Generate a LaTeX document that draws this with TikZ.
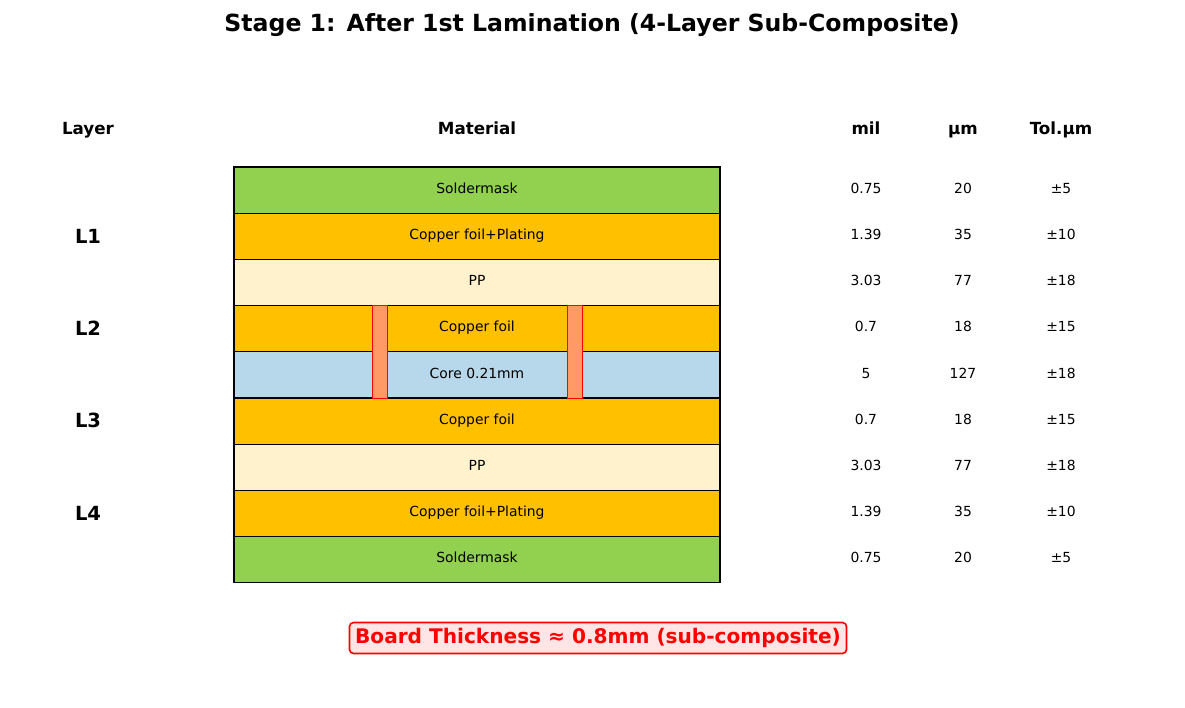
\documentclass[tikz,border=0pt]{standalone}
\usepackage{fontspec}
\setmainfont{DejaVu Sans}
\begin{document}
\begin{tikzpicture}[x=1pt,y=-1pt,
 cell/.style={draw=black,line width=1.3pt,minimum width=486pt,minimum height=46.2pt,inner sep=0pt},
 val/.style={font=\fontsize{13.9}{16}\selectfont,text height=1.5ex,text depth=.3ex},
 hdr/.style={font=\bfseries\fontsize{16.7}{19}\selectfont,text height=1.5ex,text depth=.3ex},
 lay/.style={font=\bfseries\fontsize{19.5}{22}\selectfont}]
\useasboundingbox (0,0) rectangle (1185,707);
\definecolor{gsm}{HTML}{92D050}\definecolor{cu}{HTML}{FFC000}
\definecolor{pp}{HTML}{FFF2CC}\definecolor{core}{HTML}{B7D7EA}
\definecolor{viac}{HTML}{FF9966}
\node[font=\bfseries\fontsize{23.6}{27}\selectfont] (title) at (592,25) {Stage 1: After 1st Lamination (4-Layer Sub-Composite)};
\node[hdr] (h1) at (88,131) {Layer};
\node[hdr] (h2) at (477,131) {Material};
\node[hdr] (h3) at (866,131) {mil};
\node[hdr] (h4) at (963,131) {µm};
\node[hdr] (h5) at (1061,131) {Tol.µm};
\foreach \i/\c/\m/\u/\tol in {0/gsm/0.75/20/5,1/cu/1.39/35/10,2/pp/3.03/77/18,3/cu/0.7/18/15,4/core/5/127/18,5/cu/0.7/18/15,6/pp/3.03/77/18,7/cu/1.39/35/10,8/gsm/0.75/20/5}{
 \node[cell,fill=\c] (r\i) at (477,{190.1+46.2*\i}) {};
 \node[val] (m\i) at (866,{190.1+46.2*\i}) {\m};
 \node[val] (u\i) at (963,{190.1+46.2*\i}) {\u};
 \node[val] (t\i) at (1061,{190.1+46.2*\i}) {±\tol};
}
\filldraw[fill=viac,draw=red,line width=0.6pt] (372,305) rectangle (387,398.3);
\filldraw[fill=viac,draw=red,line width=0.6pt] (567,305) rectangle (582,398.3);
\foreach \i/\t in {0/Soldermask,1/Copper foil+Plating,2/PP,3/Copper foil,4/Core 0.21mm,5/Copper foil,6/PP,7/Copper foil+Plating,8/Soldermask}{
 \node[val] (lbl\i) at (r\i.center) {\t};
}
\node[lay] (L1) at (88,236) {L1};
\node[lay] (L2) at (88,328) {L2};
\node[lay] (L3) at (88,420) {L3};
\node[lay] (L4) at (88,513) {L4};
\node[draw=red,line width=1.6pt,fill=red!10,rounded corners=4pt,text=red,font=\bfseries\fontsize{20.1}{24}\selectfont,minimum width=497pt,minimum height=31pt,inner sep=2pt] (bt) at (598,638) {Board Thickness ≈ 0.8mm (sub-composite)};
\end{tikzpicture}
\end{document}
